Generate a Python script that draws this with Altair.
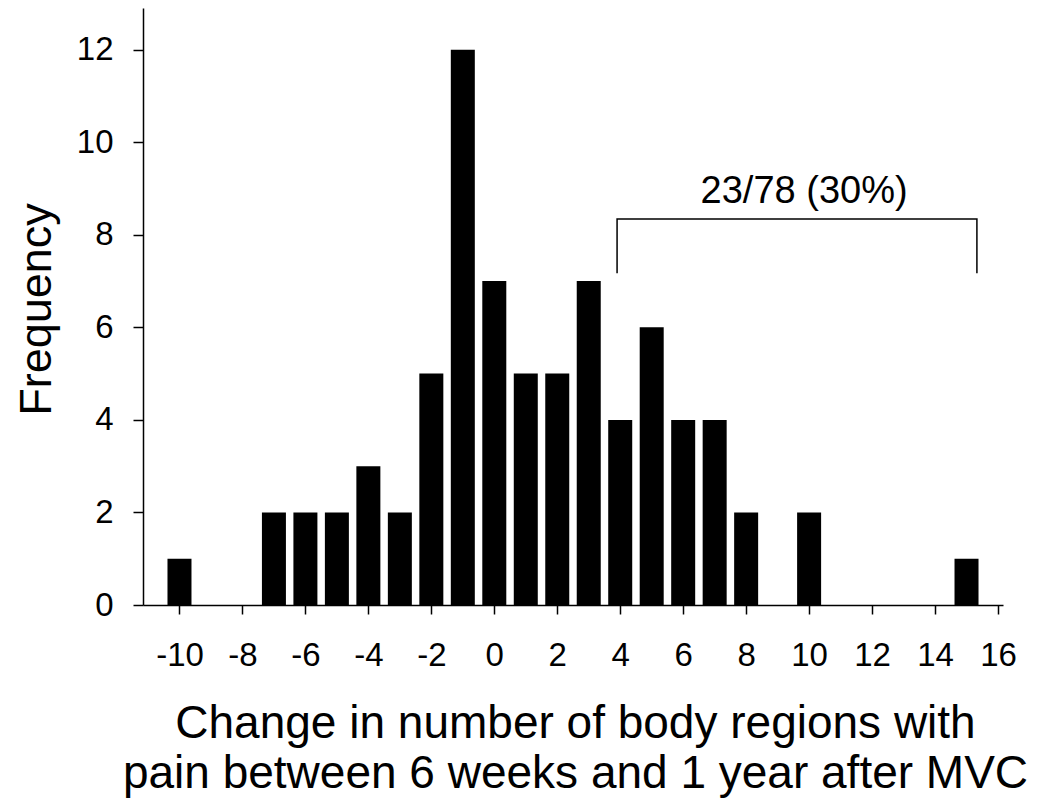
import altair as alt
import pandas as pd

# Histogram values
change = [-10, -7, -6, -5, -4, -3, -2, -1, 0, 1, 2, 3, 4, 5, 6, 7, 8, 10, 15]
frequency = [1, 2, 2, 2, 3, 2, 5, 12, 7, 5, 5, 7, 4, 6, 4, 4, 2, 2, 1]
x_ticks = list(range(-10, 17, 2))
y_ticks = list(range(0, 13, 2))

# Bracket annotation (data coordinates)
bracket_x = [3.9, 3.9, 15.33, 15.33]
bracket_y = [7.17, 8.34, 8.34, 7.17]
bracket_order = [0, 1, 2, 3]
label_text = ["23/78 (30%)"]
label_x = [9.84]
label_y = [8.69]

x_title = ["Change in number of body regions with",
           "pain between 6 weeks and 1 year after MVC"]
y_title = "Frequency"

FONT = "Liberation Sans"

bars_df = pd.DataFrame({"x": change, "y": frequency})
bracket_df = pd.DataFrame({"x": bracket_x, "y": bracket_y, "o": bracket_order})
label_df = pd.DataFrame({"x": label_x, "y": label_y, "t": label_text})

x_scale = alt.Scale(domain=[-11, 16], nice=False, zero=False)
y_scale = alt.Scale(domain=[0, 12.9], nice=False, zero=True)

x_axis = alt.Axis(
    values=x_ticks, title=x_title, labelExpr="'' + datum.value",
    grid=False, labelFlush=False, labelOverlap=False, labelBound=False,
    labelFont=FONT, labelFontSize=33, labelColor="black", labelPadding=25,
    tickSize=9, tickColor="black", tickWidth=1.5,
    domainColor="black", domainWidth=1.5,
    titleFont=FONT, titleFontSize=46, titleFontWeight="normal", titleColor="black",
    titleBaseline="alphabetic", titleAlign="center", titleX=432, titleY=132,
    titleLineHeight=50,
)
y_axis = alt.Axis(
    values=y_ticks, title=y_title, grid=False, labelFlush=False,
    labelOverlap=False, labelBound=False,
    labelFont=FONT, labelFontSize=33, labelColor="black", labelPadding=20,
    tickSize=10, tickColor="black", tickWidth=1.5,
    domainColor="black", domainWidth=1.5,
    titleFont=FONT, titleFontSize=45, titleFontWeight="normal", titleColor="black",
    titleAngle=270, titleBaseline="alphabetic", titleAlign="center",
    titleX=-93, titleY=301,
)

bars = alt.Chart(bars_df).mark_bar(size=24, color="black").encode(
    x=alt.X("x:Q", scale=x_scale, axis=x_axis),
    y=alt.Y("y:Q", scale=y_scale, axis=y_axis),
)

bracket = alt.Chart(bracket_df).mark_line(color="black", strokeWidth=1.5).encode(
    x=alt.X("x:Q", scale=x_scale, axis=x_axis),
    y=alt.Y("y:Q", scale=y_scale, axis=y_axis),
    order="o:Q",
)

label = alt.Chart(label_df).mark_text(
    font=FONT, fontSize=38, color="black", align="center", baseline="alphabetic"
).encode(
    x=alt.X("x:Q", scale=x_scale, axis=x_axis),
    y=alt.Y("y:Q", scale=y_scale, axis=y_axis),
    text="t:N",
)

chart = alt.layer(bars, bracket, label).properties(
    width=860,
    height=597,
    autosize=alt.AutoSizeParams(type="none"),
    padding={"left": 135, "top": 0, "right": 39, "bottom": 193},
    background="white",
).configure_view(strokeWidth=0)

chart.save("out.html", embed_options={"renderer": "svg", "actions": False})
